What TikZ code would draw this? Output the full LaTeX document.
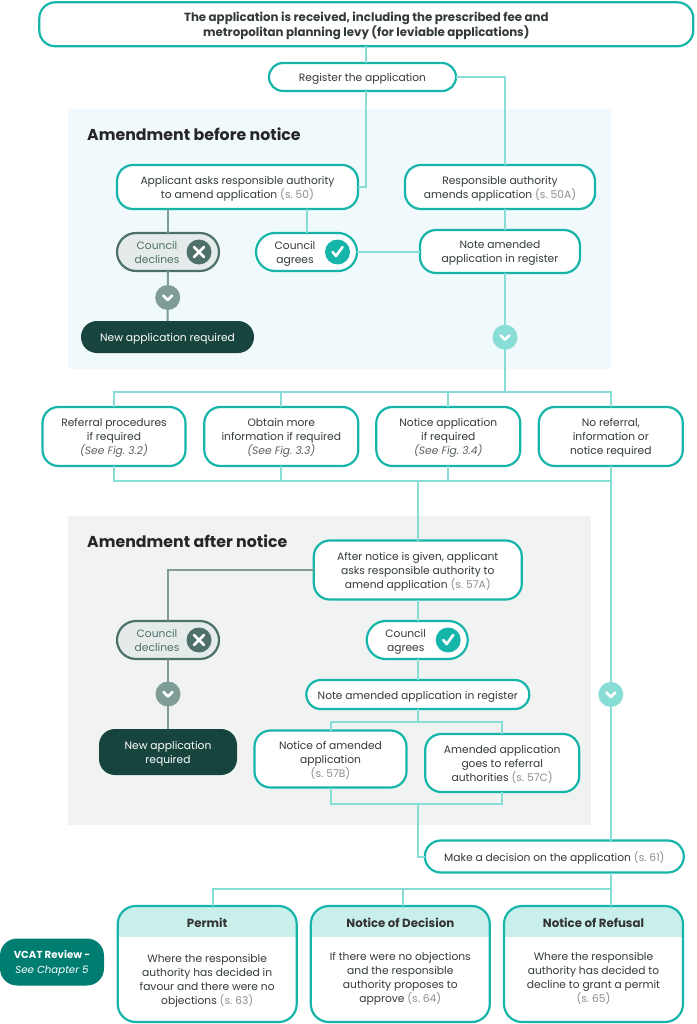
\documentclass[tikz,border=0pt]{standalone}
\usepackage{fontspec}
\setmainfont{Poppins}
\usepackage{tikz}
\usetikzlibrary{positioning, arrows}
\definecolor{tealline}{HTML}{16B5AA}
\definecolor{lightline}{HTML}{88DDD6}
\definecolor{greenline}{HTML}{7F9C96}
\definecolor{declineline}{HTML}{4F7068}
\definecolor{declinefill}{HTML}{E4EBEA}
\definecolor{darkfill}{HTML}{17453D}
\definecolor{reviewfill}{HTML}{007D71}
\definecolor{headfill}{HTML}{C9EFEB}
\definecolor{bluepanel}{HTML}{F0F9FB}
\definecolor{greypanel}{HTML}{F1F3F3}
\definecolor{bodytext}{HTML}{333A3A}
\definecolor{greytext}{HTML}{8A8F8F}
\newcommand{\secref}[1]{{\color{greytext}(s.~#1)}}
\newcommand{\seefig}[1]{{\color{bodytext!80}\itshape (See Fig.~#1)}}
\tikzstyle{bodyfont} = [font=\fontsize{10.7}{14}\selectfont, text=bodytext, align=center, text depth=-1.3pt, execute at begin node=\strut]
\tikzstyle{stepbox} = [rectangle, rounded corners=16pt, line width=2.2pt, draw=tealline, fill=white, inner sep=0pt, outer sep=0pt, bodyfont]
\tikzstyle{declinebox} = [stepbox, rounded corners=19pt, draw=declineline, fill=declinefill, minimum width=102pt, minimum height=38pt]
\tikzstyle{agreebox} = [stepbox, rounded corners=19pt, minimum width=101pt, minimum height=38pt]
\tikzstyle{newbox} = [stepbox, draw=none, fill=darkfill, text=white]
\tikzstyle{resultbox} = [stepbox, rounded corners=18pt, minimum width=179pt, minimum height=116pt, path picture={\fill [headfill, sharp corners] (path picture bounding box.north west) rectangle ([yshift=-31pt]path picture bounding box.north east);}]
\tikzstyle{headtitle} = [font=\fontsize{15.8}{17}\selectfont\bfseries, text=black!85, anchor=west, inner sep=0pt]
\tikzstyle{resulttitle} = [font=\fontsize{11.8}{14}\selectfont\bfseries, text=black!80, inner sep=0pt]
\tikzstyle{plaintext} = [bodyfont, inner sep=0pt]
\tikzstyle{icon} = [circle, minimum size=25pt, inner sep=0pt]
\tikzstyle{crossicon} = [icon, fill=declineline, path picture={\draw [white, line width=2.6pt, line cap=round] ([shift={(-5pt,-5pt)}]path picture bounding box.center) -- ([shift={(5pt,5pt)}]path picture bounding box.center) ([shift={(-5pt,5pt)}]path picture bounding box.center) -- ([shift={(5pt,-5pt)}]path picture bounding box.center);}]
\tikzstyle{checkicon} = [icon, fill=tealline, path picture={\draw [white, line width=2.6pt, line cap=round, line join=round] ([shift={(-5pt,0pt)}]path picture bounding box.center) -- ([shift={(-1.5pt,-4pt)}]path picture bounding box.center) -- ([shift={(5pt,5pt)}]path picture bounding box.center);}]
\tikzstyle{chevron} = [icon, path picture={\draw [white, line width=2.6pt, line cap=round, line join=round] ([shift={(-4.5pt,2pt)}]path picture bounding box.center) -- ([shift={(0pt,-2.5pt)}]path picture bounding box.center) -- ([shift={(4.5pt,2pt)}]path picture bounding box.center);}]
\tikzstyle{linkline} = [line width=2pt, draw=lightline]
\tikzstyle{declineline} = [line width=2pt, draw=greenline]

\begin{document}
\begin{tikzpicture}[x=1pt, y=-1pt]
\useasboundingbox (0,0) rectangle (696,1024);
% panels
\node (beforepanel) [rectangle, fill=bluepanel, minimum width=543pt, minimum height=260pt, inner sep=0pt] at (339.5,239) {};
\node (afterpanel) [rectangle, fill=greypanel, minimum width=523pt, minimum height=309pt, inner sep=0pt] at (329,670) {};
\node (beforehead) [headtitle] at (87,134) {Amendment before notice};
\node (afterhead) [headtitle] at (87,541) {Amendment after notice};

% top of the flow
\node (received) [stepbox, minimum width=654pt, minimum height=44pt, font=\fontsize{11.8}{15}\selectfont] at (366.3,24.3) {\bfseries The application is received, including the prescribed fee and\\\bfseries metropolitan planning levy (for leviable applications)};
\node (register) [stepbox, rounded corners=14pt, minimum width=187pt, minimum height=28pt] at (362.5,77) {Register the application};
\coordinate (topbar) at (505,392);
\coordinate (lowbar) at (417.8,481);

% amendment before notice
\node (applicant) [stepbox, minimum width=241pt, minimum height=44pt] at (237.5,187) {Applicant asks responsible authority\\to amend application \secref{50}};
\node (respauth) [stepbox, minimum width=190pt, minimum height=44pt] at (500,187) {Responsible authority\\amends application \secref{50A}};
\node (respnote) [stepbox, minimum width=160pt, minimum height=43pt] at (500,251.5) {Note amended\\application in register};
\node (declines) [declinebox] at (168,252) {};
\node (declinestext) [plaintext, text=declineline] at ([xshift=-11pt]declines.center) {Council\\declines};
\node (declinesicon) [crossicon] at ([xshift=31pt]declines.center) {};
\node (agrees) [agreebox] at (306.5,252) {};
\node (agreestext) [plaintext] at ([xshift=-11.5pt]agrees.center) {Council\\agrees};
\node (agreesicon) [checkicon] at ([xshift=31pt]agrees.center) {};
\node (newapp) [newbox, minimum width=173pt, minimum height=32pt] at (167.5,337) {New application required};

% middle row
\node (referral) [stepbox, minimum width=143pt, minimum height=59pt] at (114,436.5) {Referral procedures\\if required\\\seefig{3.2}};
\node (obtain) [stepbox, minimum width=154pt, minimum height=59pt] at (281.3,436.5) {Obtain more\\information if required\\\seefig{3.3}};
\node (noticeapp) [stepbox, minimum width=144pt, minimum height=59pt] at (448.3,436.5) {Notice application\\if required\\\seefig{3.4}};
\node (noreferral) [stepbox, minimum width=144pt, minimum height=59pt] at (610.8,436.5) {No referral,\\information or\\notice required};

% amendment after notice
\node (afternotice) [stepbox, minimum width=208pt, minimum height=59pt] at (417.8,570) {After notice is given, applicant\\asks responsible authority to\\amend application \secref{57A}};
\node (declineslow) [declinebox] at (168,640) {};
\node (declineslowtext) [plaintext, text=declineline] at ([xshift=-11pt]declineslow.center) {Council\\declines};
\node (declineslowicon) [crossicon] at ([xshift=31pt]declineslow.center) {};
\node (agreeslow) [agreebox] at (417.2,640) {};
\node (agreeslowtext) [plaintext] at ([xshift=-11.5pt]agreeslow.center) {Council\\agrees};
\node (agreeslowicon) [checkicon] at ([xshift=31pt]agreeslow.center) {};
\node (newapplow) [newbox, minimum width=138pt, minimum height=46pt] at (168,752) {New application\\required};
\node (noteamended) [stepbox, rounded corners=14.5pt, minimum width=223pt, minimum height=29pt] at (417.8,694.5) {Note amended application in register};
\node (noticeamended) [stepbox, minimum width=152pt, minimum height=57pt] at (330.5,759) {Notice of amended\\application\\\secref{57B}};
\node (amendedgoes) [stepbox, minimum width=154pt, minimum height=58pt] at (502.2,763) {Amended application\\goes to referral\\authorities \secref{57C}};
\coordinate (splitbar) at (417.8,722);
\coordinate (joinbar) at (417.8,804);

% decision and outcomes
\node (decision) [stepbox, minimum width=259pt, minimum height=32pt] at (554.3,856.5) {Make a decision on the application \secref{61}};
\coordinate (resultbar) at (610.8,889);
\node (permit) [resultbox] at (207.2,964) {};
\node (noticedec) [resultbox] at (400.3,964) {};
\node (refusal) [resultbox] at (593.5,964) {};
\node (permittitle) [resulttitle] at ([yshift=-17pt]permit.north) {Permit};
\node (noticedectitle) [resulttitle] at ([yshift=-17pt]noticedec.north) {Notice of Decision};
\node (refusaltitle) [resulttitle] at ([yshift=-17pt]refusal.north) {Notice of Refusal};
\node (permittext) [plaintext] at (207.2,979.5) {Where the responsible\\authority has decided in\\favour and there were no\\objections \secref{63}};
\node (noticedectext) [plaintext] at (400.3,977) {If there were no objections\\and the responsible\\authority proposes to\\approve \secref{64}};
\node (refusaltext) [plaintext] at (593.5,977) {Where the responsible\\authority has decided to\\decline to grant a permit\\\secref{65}};
\node (vcat) [newbox, fill=reviewfill, minimum width=104pt, minimum height=47pt, rounded corners=17pt, font=\fontsize{10.2}{15.5}\selectfont] at (52,962) {\bfseries VCAT Review -\\\itshape See Chapter 5};

% connectors
\draw [linkline] (received.south) -- (received.south |- register.north);
\draw [linkline] (received.south |- register.south) |- (applicant.east);
\draw [linkline] (register.east) -| (topbar |- respauth.north);
\draw [linkline] (topbar |- respauth.south) -- (topbar |- respnote.north);
\draw [linkline] (agrees.north |- applicant.south) -- (agrees.north);
\draw [linkline] (agrees.east) -- (agrees.east -| respnote.west);
\draw [declineline] (declines.north |- applicant.south) -- (declines.north);
\draw [declineline] (declines.south) -- node [pos=0.53, chevron, fill=greenline] (chevbefore) {} (newapp.north);
\draw [linkline] (topbar |- respnote.south) -- node [pos=0.54, chevron, fill=lightline] (chevright) {} (topbar);

\draw [linkline] (referral.north) |- (topbar);
\draw [linkline] (noreferral.north) |- (topbar);
\draw [linkline] (obtain.north) -- (obtain.north |- topbar);
\draw [linkline] (noticeapp.north) -- (noticeapp.north |- topbar);
\draw [linkline] (referral.south) |- (lowbar);
\draw [linkline] (noreferral.south) |- (lowbar);
\draw [linkline] (obtain.south) -- (obtain.south |- lowbar);
\draw [linkline] (noticeapp.south) -- (noticeapp.south |- lowbar);
\draw [linkline] (lowbar) -- (afternotice.north);

\draw [declineline] (afternotice.west) -| (declineslow.north);
\draw [declineline] (declineslow.south) -- node [pos=0.5, chevron, fill=greenline] (chevafter) {} (newapplow.north);
\draw [linkline] (afternotice.south) -- (agreeslow.north -| afternotice.south);
\draw [linkline] (agreeslow.south -| afternotice.south) -- (noteamended.north);
\draw [linkline] (noteamended.south) -- (splitbar);
\draw [linkline] (noticeamended.north) |- (splitbar);
\draw [linkline] (amendedgoes.north) |- (splitbar);
\draw [linkline] (noticeamended.south) |- (joinbar);
\draw [linkline] (amendedgoes.south) |- (joinbar);
\draw [linkline] (joinbar) |- (decision.west);
\draw [linkline] (noreferral.south) -- node [pos=0.61, chevron, fill=lightline] (chevlong) {} (noreferral.south |- decision.north);
\draw [linkline] (noreferral.south |- decision.south) -- (noreferral.south |- refusal.north);
\draw [linkline] ([xshift=5.5pt]permit.north) |- (resultbar);
\draw [linkline] ([xshift=2.7pt]noticedec.north) -- ([xshift=2.7pt]noticedec.north |- resultbar);
\end{tikzpicture}
\end{document}
